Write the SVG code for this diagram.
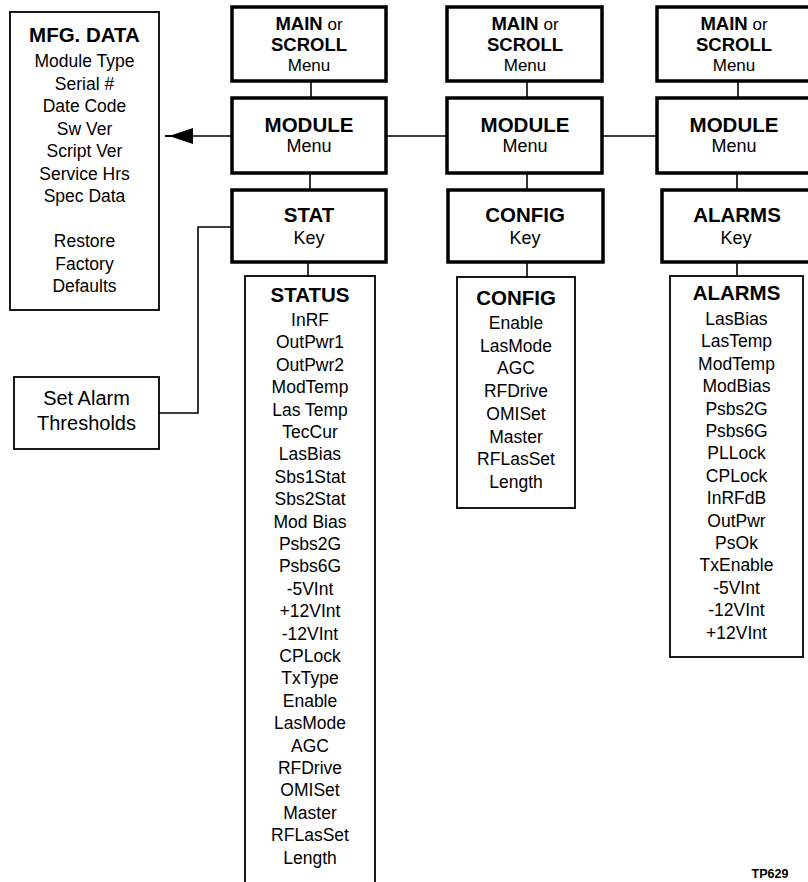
<svg xmlns="http://www.w3.org/2000/svg" width="808" height="882" viewBox="0 0 808 882">
<style>
text{font-family:"Liberation Sans",Arial,sans-serif;fill:#000;text-anchor:middle}
.b{font-weight:bold;font-size:20.5px}
.t{font-weight:bold;font-size:18.5px}
.m{font-size:18px}
.mm{font-size:17px}
.l{font-size:17.5px}
.s{font-size:20px}
.key{fill:#fff;stroke:#000;stroke-width:3.5}
.box{fill:#fff;stroke:#000;stroke-width:1.8}
.c{fill:none;stroke:#000;stroke-width:1.6}
</style>
<defs>
<marker id="ah" markerUnits="userSpaceOnUse" markerWidth="30" markerHeight="20" refX="0" refY="10" orient="0">
<path d="M0,9 L7,9 L28,2 L28,18 L7,11 L0,11 Z" fill="#000"/>
</marker>
</defs>
<rect width="808" height="882" fill="#fff"/>
<g id="connectors">
<line class="c" x1="311" y1="81" x2="311" y2="98"/>
<line class="c" x1="310" y1="173" x2="310" y2="190"/>
<line class="c" x1="308" y1="262" x2="308" y2="276"/>
<line class="c" x1="527" y1="81" x2="527" y2="98"/>
<line class="c" x1="527" y1="173" x2="527" y2="190"/>
<line class="c" x1="527" y1="262" x2="527" y2="277"/>
<line class="c" x1="738" y1="81" x2="738" y2="98"/>
<line class="c" x1="737" y1="173" x2="737" y2="190"/>
<line class="c" x1="737" y1="262" x2="737" y2="276"/>
<line class="c" x1="165" y1="136" x2="232" y2="136" marker-start="url(#ah)"/>
<line class="c" x1="386" y1="136" x2="447" y2="136"/>
<line class="c" x1="602" y1="136" x2="657" y2="136"/>
<polyline class="c" points="159,413 198,413 198,227 232,227"/>
</g>
<g id="mfg">
<rect class="box" x="10" y="12" width="149" height="298"/>
<text class="b" x="84.5" y="42">MFG. DATA</text>
<text class="l" x="84.5" y="67">Module Type</text>
<text class="l" x="84.5" y="89.5">Serial #</text>
<text class="l" x="84.5" y="112">Date Code</text>
<text class="l" x="84.5" y="134.5">Sw Ver</text>
<text class="l" x="84.5" y="157">Script Ver</text>
<text class="l" x="84.5" y="179.5">Service Hrs</text>
<text class="l" x="84.5" y="202">Spec Data</text>
<text class="l" x="84.5" y="247">Restore</text>
<text class="l" x="84.5" y="269.5">Factory</text>
<text class="l" x="84.5" y="292">Defaults</text>
</g>
<g id="alarm-thresholds">
<rect class="box" x="14" y="377" width="145" height="72"/>
<text class="s" x="86.5" y="405">Set Alarm</text>
<text class="s" x="86.5" y="430">Thresholds</text>
</g>
<g id="main1">
<rect class="key" x="232" y="7" width="154" height="74"/>
<text x="309" y="29.5"><tspan class="t">MAIN</tspan><tspan class="mm"> or</tspan></text>
<text class="t" x="309" y="51">SCROLL</text>
<text class="mm" x="309" y="70.5">Menu</text>
</g>
<g id="module1">
<rect class="key" x="232" y="98" width="154" height="75"/>
<text class="b" x="309" y="132">MODULE</text>
<text class="m" x="309" y="152">Menu</text>
</g>
<g id="stat-key">
<rect class="key" x="232" y="190" width="154" height="72"/>
<text class="b" x="309" y="222">STAT</text>
<text class="m" x="309" y="244">Key</text>
</g>
<g id="main2">
<rect class="key" x="447" y="7" width="155" height="74"/>
<text x="525" y="29.5"><tspan class="t">MAIN</tspan><tspan class="mm"> or</tspan></text>
<text class="t" x="525" y="51">SCROLL</text>
<text class="mm" x="525" y="70.5">Menu</text>
</g>
<g id="module2">
<rect class="key" x="447" y="98" width="155" height="75"/>
<text class="b" x="525" y="132">MODULE</text>
<text class="m" x="525" y="152">Menu</text>
</g>
<g id="config-key">
<rect class="key" x="448" y="190" width="155" height="72"/>
<text class="b" x="525" y="222">CONFIG</text>
<text class="m" x="525" y="244">Key</text>
</g>
<g id="main3">
<rect class="key" x="657" y="7" width="154" height="74"/>
<text x="734" y="29.5"><tspan class="t">MAIN</tspan><tspan class="mm"> or</tspan></text>
<text class="t" x="734" y="51">SCROLL</text>
<text class="mm" x="734" y="70.5">Menu</text>
</g>
<g id="module3">
<rect class="key" x="657" y="98" width="154" height="75"/>
<text class="b" x="734" y="132">MODULE</text>
<text class="m" x="734" y="152">Menu</text>
</g>
<g id="alarms-key">
<rect class="key" x="662" y="190" width="152" height="72"/>
<text class="b" x="737" y="222">ALARMS</text>
<text class="m" x="736" y="244">Key</text>
</g>
<g id="status-list">
<rect class="box" x="245" y="276" width="130" height="620"/>
<text class="b" x="310" y="302">STATUS</text>
<text class="l" x="310" y="326">InRF</text>
<text class="l" x="310" y="348.4">OutPwr1</text>
<text class="l" x="310" y="370.8">OutPwr2</text>
<text class="l" x="310" y="393.2">ModTemp</text>
<text class="l" x="310" y="415.6">Las Temp</text>
<text class="l" x="310" y="438">TecCur</text>
<text class="l" x="310" y="460.4">LasBias</text>
<text class="l" x="310" y="482.8">Sbs1Stat</text>
<text class="l" x="310" y="505.2">Sbs2Stat</text>
<text class="l" x="310" y="527.6">Mod Bias</text>
<text class="l" x="310" y="550">Psbs2G</text>
<text class="l" x="310" y="572.4">Psbs6G</text>
<text class="l" x="310" y="594.8">-5VInt</text>
<text class="l" x="310" y="617.2">+12VInt</text>
<text class="l" x="310" y="639.6">-12VInt</text>
<text class="l" x="310" y="662">CPLock</text>
<text class="l" x="310" y="684.4">TxType</text>
<text class="l" x="310" y="706.8">Enable</text>
<text class="l" x="310" y="729.2">LasMode</text>
<text class="l" x="310" y="751.6">AGC</text>
<text class="l" x="310" y="774">RFDrive</text>
<text class="l" x="310" y="796.4">OMISet</text>
<text class="l" x="310" y="818.8">Master</text>
<text class="l" x="310" y="841.2">RFLasSet</text>
<text class="l" x="310" y="863.6">Length</text>
</g>
<g id="config-list">
<rect class="box" x="457" y="277" width="118" height="231"/>
<text class="b" x="516" y="305">CONFIG</text>
<text class="l" x="516" y="329">Enable</text>
<text class="l" x="516" y="351.7">LasMode</text>
<text class="l" x="516" y="374.4">AGC</text>
<text class="l" x="516" y="397.1">RFDrive</text>
<text class="l" x="516" y="419.8">OMISet</text>
<text class="l" x="516" y="442.5">Master</text>
<text class="l" x="516" y="465.2">RFLasSet</text>
<text class="l" x="516" y="488">Length</text>
</g>
<g id="alarms-list">
<rect class="box" x="670" y="276" width="133" height="381"/>
<text class="b" x="736.5" y="300">ALARMS</text>
<text class="l" x="736.5" y="325">LasBias</text>
<text class="l" x="736.5" y="347.4">LasTemp</text>
<text class="l" x="736.5" y="369.8">ModTemp</text>
<text class="l" x="736.5" y="392.2">ModBias</text>
<text class="l" x="736.5" y="414.6">Psbs2G</text>
<text class="l" x="736.5" y="437">Psbs6G</text>
<text class="l" x="736.5" y="459.4">PLLock</text>
<text class="l" x="736.5" y="481.8">CPLock</text>
<text class="l" x="736.5" y="504.2">InRFdB</text>
<text class="l" x="736.5" y="526.6">OutPwr</text>
<text class="l" x="736.5" y="549">PsOk</text>
<text class="l" x="736.5" y="571.4">TxEnable</text>
<text class="l" x="736.5" y="593.8">-5VInt</text>
<text class="l" x="736.5" y="616.2">-12VInt</text>
<text class="l" x="736.5" y="638.6">+12VInt</text>
</g>
<g id="label">
<text x="770" y="878" style="font-size:12.5px;font-weight:bold">TP629</text>
</g>
</svg>
